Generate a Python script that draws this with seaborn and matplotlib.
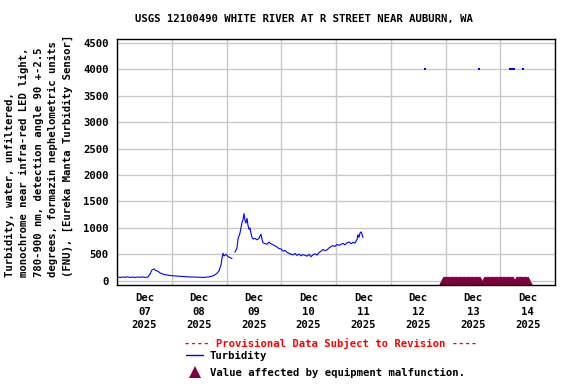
import pandas as pd
import matplotlib
matplotlib.use('Agg')
import matplotlib.pyplot as plt
import matplotlib.dates as mdates
from matplotlib.lines import Line2D
import seaborn as sns

start = pd.Timestamp('2025-12-07 00:00')
end = pd.Timestamp('2025-12-15 00:00')

# turbidity readings, hours after Dec 07 00:00, FNU
turb_hours = [0.4, 1.5, 2.5, 3.5, 4.5, 5.7, 6.8, 7.9, 9.0, 10.1, 11.2, 12.3, 13.6,
              14.5, 15.3, 16.2, 17.1, 18.0, 18.8, 20.2, 21.5, 23.2, 25.4, 27.6,
              29.8, 32.0, 34.2, 36.4, 38.6, 39.9, 41.2, 42.5, 43.8, 44.7, 45.6,
              46.0, 46.5, 46.9, 47.8, 48.7, 49.5, 50.4,
              51.7, 52.6, 53.0, 53.5, 53.9, 54.4, 54.8, 55.2, 55.7, 56.1, 56.5,
              57.0, 57.4, 57.9, 58.3, 58.7, 59.2, 59.6, 60.5, 61.4, 62.2, 62.7,
              63.1, 63.6, 64.0, 64.9, 65.8, 66.6, 67.5, 68.4, 69.3, 70.1, 71.0,
              71.9, 72.8, 73.6, 74.5, 75.4, 76.3, 77.2, 78.0, 78.9, 79.8, 80.7,
              81.5, 82.4, 83.3, 84.2, 85.0, 85.9, 86.8, 87.7, 88.5, 89.4, 90.3,
              91.2, 92.1, 92.9, 93.8, 94.7, 95.6, 96.4, 97.3, 98.2, 99.1, 99.9,
              100.8, 101.7, 102.6, 103.5, 104.3, 105.2, 105.6, 106.1, 106.5,
              107.0, 107.4, 107.8]
turb_values = [70, 62, 72, 66, 74, 64, 70, 62, 71, 66, 73, 64, 72,
               130, 205, 225, 190, 180, 150, 125, 112, 100, 92, 85,
               78, 72, 70, 66, 64, 72, 82, 100, 140, 185, 300,
               420, 520, 470, 500, 455, 440, 420,
               540, 620, 780, 850, 900, 1010, 1100, 1150, 1270, 1140, 1090,
               1180, 1050, 970, 1000, 900, 820, 790, 800, 775, 800, 845,
               880, 780, 720, 700, 690, 730, 700, 680, 660, 640, 610,
               600, 560, 575, 540, 520, 500, 490, 515, 480, 505, 470,
               495, 480, 465, 500, 455, 490, 510, 485, 530, 560, 590,
               570, 585, 620, 645, 665, 650, 685, 670, 690, 705, 680,
               715, 735, 700, 725, 710, 780, 870, 820, 900,
               925, 880, 820]
gap_after = 51.0  # no data between the two stretches

# stray readings near the top of the scale
spike_hours = [135.0, 158.7, 172.3, 173.2, 174.0, 178.0]
spike_values = [4000, 4000, 4000, 4000, 4000, 4000]

# equipment malfunction flags: runs of 15-minute readings
flag_runs = [('2025-12-12 23:00', '2025-12-13 15:00'),
             ('2025-12-13 17:00', '2025-12-14 05:30'),
             ('2025-12-14 07:00', '2025-12-14 12:00')]

df = pd.DataFrame({'hours': turb_hours, 'FNU': turb_values})
df['time'] = start + pd.to_timedelta(df['hours'], unit='h')
df['seg'] = (df['hours'] > gap_after).astype(int)

spikes = pd.DataFrame({'time': start + pd.to_timedelta(spike_hours, unit='h'),
                       'FNU': spike_values})
flag_times = pd.DatetimeIndex([])
for a, b in flag_runs:
    flag_times = flag_times.append(pd.date_range(a, b, freq='15min'))
flags = pd.DataFrame({'time': flag_times, 'FNU': 0})

sns.set_theme(style='white')
plt.rcParams['font.family'] = ['DejaVu Sans Mono']
plt.rcParams['font.weight'] = 'bold'
plt.rcParams['font.size'] = 7.7
plt.rcParams['text.color'] = 'black'
plt.rcParams['xtick.color'] = 'black'
plt.rcParams['ytick.color'] = 'black'

fig = plt.figure(figsize=(5.76, 3.84), dpi=100)
ax = fig.add_axes([117/576, 1 - 285/384, 438/576, 246/384])

sns.lineplot(data=df, x='time', y='FNU', units='seg', estimator=None,
             color='blue', lw=0.8, ax=ax)
sns.scatterplot(data=spikes, x='time', y='FNU', color='blue', marker='s',
                s=1.5, linewidth=0, ax=ax)
sns.scatterplot(data=flags, x='time', y='FNU', color='#800040', marker='^',
                s=50, linewidth=0, ax=ax)

ax.set_xlim(start, end)
ax.set_ylim(-80, 4570)
ax.set_yticks(range(0, 4501, 500))
ax.xaxis.set_major_locator(mdates.DayLocator())
ax.xaxis.set_major_formatter(plt.NullFormatter())
ax.xaxis.set_minor_locator(mdates.HourLocator(byhour=12))
ax.xaxis.set_minor_formatter(mdates.DateFormatter('%b\n%d\n%Y'))
ax.tick_params(which='both', length=0, labelsize=7.7, colors='black')
ax.tick_params(axis='x', which='minor', pad=6)
ax.tick_params(axis='y', pad=6)
for lbl in ax.get_xticklabels(minor=True) + ax.get_yticklabels():
    lbl.set_fontweight('bold')
for lbl in ax.get_xticklabels(minor=True):
    lbl.set_linespacing(1.4)
ax.grid(True, which='major', color='#c8c8c8', lw=1)
ax.grid(False, which='minor')
ax.set_axisbelow(True)
for s in ax.spines.values():
    s.set_color('black')
    s.set_linewidth(1)
ax.set_xlabel('')
ax.set_ylabel('')

fig.text(303.5/576, 1 - 19/384, 'USGS 12100490 WHITE RIVER AT R STREET NEAR AUBURN, WA',
         ha='center', va='center', fontsize=7.7, fontweight='bold')
fig.text(39/576, 1 - 277/384,
         'Turbidity, water, unfiltered,\n'
         'monochrome near infra-red LED light,\n'
         '780-900 nm, detection angle 90 +-2.5\n'
         'degrees, formazin nephelometric units\n'
         '(FNU), [Eureka Manta Turbidity Sensor]',
         rotation=90, ha='center', va='bottom', multialignment='left',
         linespacing=1.55, fontsize=7.7, fontweight='bold')

fig.text(331/576, 1 - 343/384, '---- Provisional Data Subject to Revision ----',
         color='red', ha='center', va='center', fontsize=7.7, fontweight='bold')
handles = [Line2D([], [], color='blue', lw=1),
           Line2D([], [], color='#800040', marker='^', ls='none', ms=8, mew=0)]
leg = fig.legend(handles, ['Turbidity', 'Value affected by equipment malfunction.'],
                 loc='upper left', bbox_to_anchor=(186/576, 1 - 351/384),
                 frameon=False, borderpad=0, borderaxespad=0, handlelength=1.6,
                 handletextpad=0.6, labelspacing=0.65,
                 prop={'size': 7.7, 'weight': 'bold', 'family': 'DejaVu Sans Mono'})

fig.savefig('out.png', dpi=100)
